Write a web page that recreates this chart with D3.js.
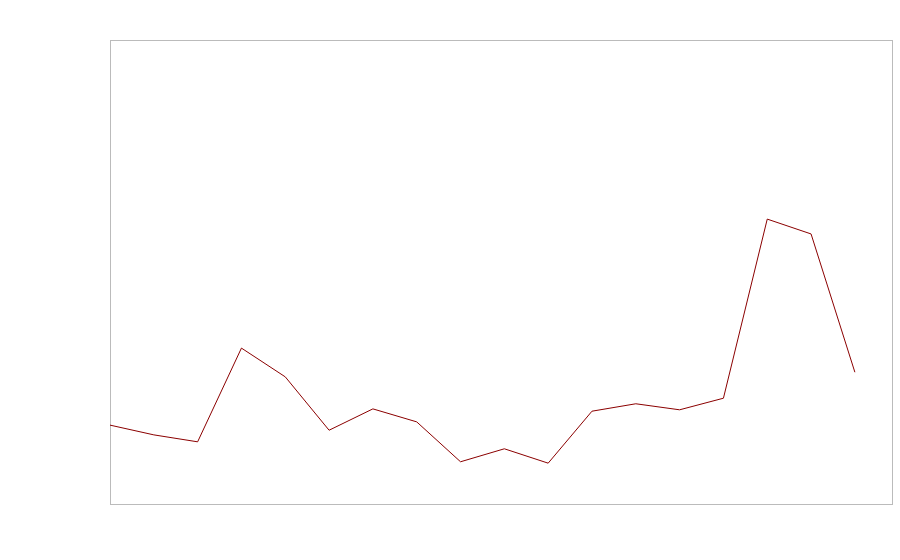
<!DOCTYPE html>
<html>
<head>
<meta charset="utf-8">
<script src="https://cdn.jsdelivr.net/npm/d3@7"></script>
<style>
  body { margin: 0; background: #fff; }
</style>
</head>
<body>
<div id="chart"></div>
<script>
// Series values (no axis labels shown, so relative units)
const periods = d3.range(18);
const values = [17.0, 14.9, 13.4, 33.6, 27.4, 15.9, 20.5, 17.7, 9.1, 11.9, 8.8, 20.0, 21.6, 20.3, 22.8, 61.4, 58.2, 28.4];

const width = 900, height = 560;
const margin = { top: 40, right: 7, bottom: 56, left: 110 };

const svg = d3.select("#chart")
  .append("svg")
  .attr("width", width)
  .attr("height", height);

const x = d3.scaleLinear()
  .domain([0, 17.87])
  .range([margin.left, width - margin.right]);

const y = d3.scaleLinear()
  .domain([0, 100])
  .range([height - margin.bottom, margin.top]);

// plot frame
svg.append("rect")
  .attr("x", margin.left + 0.5)
  .attr("y", margin.top + 0.5)
  .attr("width", width - margin.left - margin.right - 1)
  .attr("height", height - margin.top - margin.bottom)
  .attr("fill", "none")
  .attr("stroke", "#bbb")
  .attr("stroke-width", 1);

const line = d3.line()
  .x((d, i) => x(periods[i]))
  .y(d => y(d));

svg.append("path")
  .datum(values)
  .attr("fill", "none")
  .attr("stroke", "#8b0000")
  .attr("stroke-width", 1)
  .attr("d", line);
</script>
</body>
</html>
